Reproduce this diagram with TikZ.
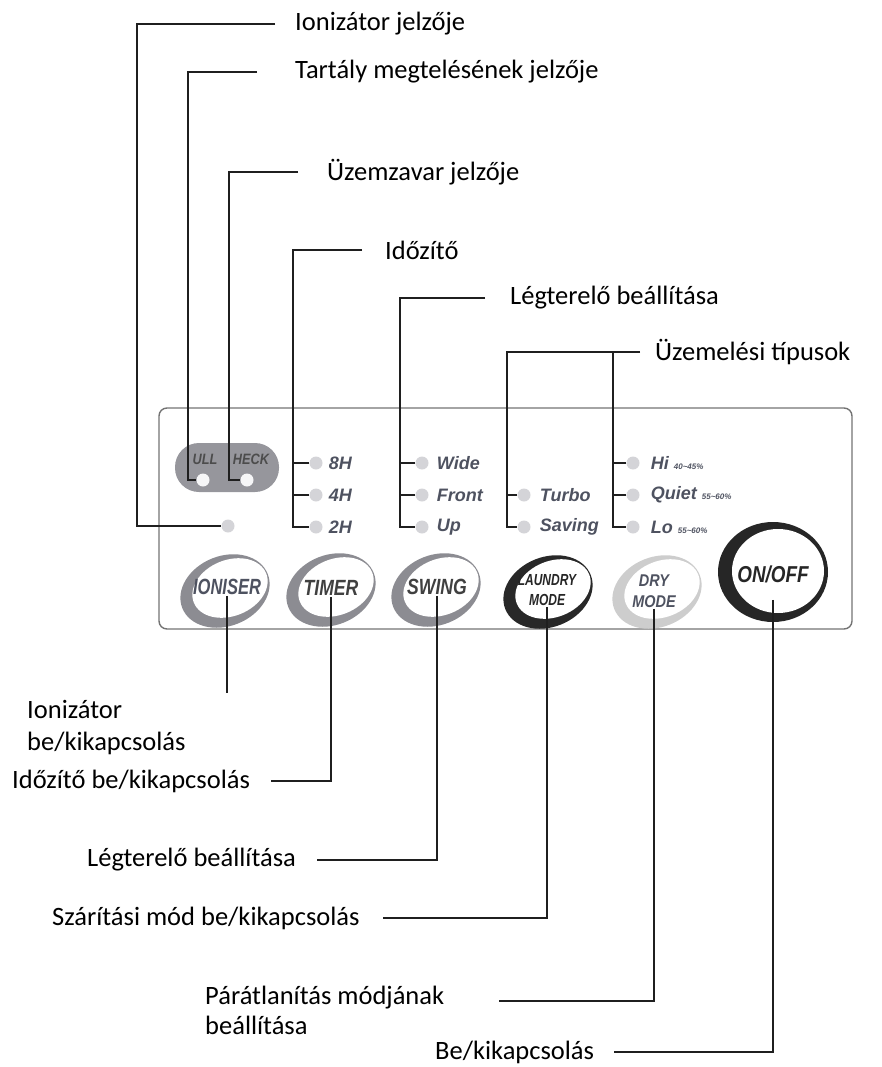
\documentclass[tikz,border=0pt]{standalone}
\usepackage{fontspec}
\setmainfont{Carlito}
\newfontfamily\panelfont{Liberation Sans}
\usetikzlibrary{positioning}

\definecolor{ledgray}{RGB}{212,212,216}
\definecolor{paneltext}{RGB}{78,82,96}
\definecolor{ringgray}{RGB}{140,140,146}
\definecolor{ringdark}{RGB}{40,40,40}
\definecolor{ringlight}{RGB}{205,205,205}
\definecolor{pillgray}{RGB}{150,150,156}

\tikzset{
  lead/.style={line width=2pt, black!88},
  panel/.style={draw=black!55, line width=1.4pt, rounded corners=8pt},
  led/.style={circle, fill=ledgray, minimum size=13pt, inner sep=0pt},
  callout/.style={inner sep=0pt, font=\fontsize{26.5}{32}\selectfont},
  ledtext/.style={anchor=west, inner sep=0pt, text=paneltext,
    font=\panelfont\bfseries\itshape\fontsize{18}{18}\selectfont},
  pilltext/.style={inner sep=0pt, text=black!70,
    font=\panelfont\bfseries\itshape\fontsize{15}{15}\selectfont},
  btntext/.style={inner sep=1pt, align=center,
    font=\panelfont\bfseries\itshape\fontsize{22}{22}\selectfont}
}

\begin{document}
\begin{tikzpicture}[x=1pt,y=-1pt]
\useasboundingbox (0,0) rectangle (881,1067);

% control panel
\draw[panel] (159,408) rectangle (852,629);
\fill[pillgray, rounded corners=24pt] (175,443) rectangle (279,492);
\node[pilltext] (full) at (205,459) {\scalebox{0.85}[1]{ULL}};
\node[pilltext] (check) at (251,459) {\scalebox{0.85}[1]{HECK}};

% button rings
\foreach \cx/\cy/\col in {225/591/ringgray, 331/590/ringgray, 436/590/ringgray,
                          548/592/ringdark, 657/592/ringlight}
{
  \fill[\col, rotate around={22:(\cx,\cy)}] (\cx,\cy) ellipse (46 and 35);
  \fill[white, rotate around={22:(\cx+5,\cy-3)}] (\cx+5,\cy-3) ellipse (39 and 28);
}
\fill[black!85] (773,572) ellipse (55 and 50);
\fill[white] (778,571) ellipse (46 and 42);

\begin{scope}[every node/.style=btntext]
    \node[text=paneltext] (bnIon) at (227,587) {\scalebox{0.75}[1]{IONISER}};
    \node[text=black!75] (bnTim) at (331,588) {\scalebox{0.8}[1]{TIMER}};
    \node[text=black!75] (bnSw) at (437,587) {\scalebox{0.8}[1]{SWING}};
    \node[text=black!85, font=\panelfont\bfseries\itshape\fontsize{16}{20}\selectfont]
        (bnLau) at (547,590) {\scalebox{0.75}[1]{LAUNDRY}\\\scalebox{0.75}[1]{MODE}};
    \node[text=paneltext, font=\panelfont\bfseries\itshape\fontsize{17}{21}\selectfont]
        (bnDry) at (654,591) {\scalebox{0.85}[1]{DRY}\\\scalebox{0.85}[1]{MODE}};
    \node[text=black!85, font=\panelfont\bfseries\itshape\fontsize{23}{23}\selectfont]
        (bnOn) at (773,574) {\scalebox{0.82}[1]{ON/OFF}};
\end{scope}

% indicator lamps
\begin{scope}[every node/.style=led]
    \node (ledIon) at (228,526) {};
    \node[fill=white!80!ledgray] (ledFull) at (203,480) {};
    \node[fill=white!80!ledgray] (ledErr) at (247,480) {};
    \node (led8H) at (316,463) {};
    \node (led4H) at (316,495) {};
    \node (led2H) at (316,527) {};
    \node (ledWide) at (422,463) {};
    \node (ledFront) at (422,495) {};
    \node (ledUp) at (422,527) {};
    \node (ledTurbo) at (524,495) {};
    \node (ledSaving) at (524,527) {};
    \node (ledHi) at (633,463) {};
    \node (ledQuiet) at (633,495) {};
    \node (ledLo) at (633,527) {};
\end{scope}

\begin{scope}[every node/.style=ledtext]
    \node[right=6pt of led8H] (t8H) {8H};
    \node[right=6pt of led4H] (t4H) {4H};
    \node[right=6pt of led2H] (t2H) {2H};
    \node[right=8pt of ledWide] (tWide) {Wide};
    \node[right=8pt of ledFront] (tFront) {Front};
    \node[right=8pt of ledUp] (tUp) {Up};
    \node[right=9pt of ledTurbo] (tTurbo) {Turbo};
    \node[right=9pt of ledSaving] (tSaving) {Saving};
    \node[right=11pt of ledHi] (tHi) {Hi {\fontsize{8}{8}\selectfont 40\textasciitilde45\%}};
    \node[right=11pt of ledQuiet] (tQuiet) {Quiet {\fontsize{8}{8}\selectfont 55\textasciitilde60\%}};
    \node[right=11pt of ledLo] (tLo) {Lo {\fontsize{8}{8}\selectfont 55\textasciitilde60\%}};
\end{scope}

% labels above
\begin{scope}[every node/.style={callout, anchor=west}]
    \node (tIon) at (295,24) {Ionizátor jelzője};
    \node (tFull) at (295,72) {Tartály megtelésének jelzője};
    \node (tErr) at (327,172) {Üzemzavar jelzője};
    \node (tTim) at (385,250) {Időzítő};
    \node (tSw) at (510,298) {Légterelő beállítása};
    \node (tMode) at (655,352) {Üzemelési típusok};
\end{scope}

% labels below
\begin{scope}[every node/.style={callout, anchor=west, align=left}]
    \node (lIon) at (27,728) {Ionizátor\\be/kikapcsolás};
    \node (lTim) at (12,781) {Időzítő be/kikapcsolás};
    \node (lSw) at (87,860) {Légterelő beállítása};
    \node (lLau) at (52,918) {Szárítási mód be/kikapcsolás};
    \node[font=\fontsize{26.5}{30}\selectfont] (lDry) at (205,1010) {Párátlanítás módjának\\beállítása};
    \node (lOn) at (435,1052) {Be/kikapcsolás};
\end{scope}

\coordinate (ionEnd) at (227,693);

% leader lines
\begin{scope}[lead]
    \draw ([xshift=-20pt]tIon.west) -- ++(-138,0) |- (ledIon.west);
    \draw ([xshift=-38pt]tFull.west) -- ++(-69,0) |- (ledFull.west);
    \draw ([xshift=-29pt]tErr.west) -- ++(-69,0) |- (ledErr.west);
    \draw ([xshift=-23pt]tTim.west) -- ++(-69,0) |- (led2H.west);
    \draw (led8H.west) -- ++(-17,0);
    \draw (led4H.west) -- ++(-17,0);
    \draw ([xshift=-25pt]tSw.west) -- ++(-85,0) |- (ledUp.west);
    \draw (ledWide.west) -- ++(-16,0);
    \draw (ledFront.west) -- ++(-16,0);
    \draw ([xshift=-15pt]tMode.west) -- ++(-133,0) |- (ledSaving.west);
    \draw (ledTurbo.west) -- ++(-11,0);
    \draw (tMode.west) ++(-42,0) |- (ledLo.west);
    \draw (ledHi.west) -- ++(-14,0);
    \draw (ledQuiet.west) -- ++(-14,0);

    \draw (bnIon.south) -- (ionEnd);
    \draw (bnTim.south) |- ([xshift=21pt]lTim.east);
    \draw (bnSw.south) |- ([xshift=21pt]lSw.east);
    \draw (bnLau.south) |- ([xshift=23pt]lLau.east);
    \draw (bnDry.south) |- ([xshift=55pt,yshift=-15pt]lDry.north east);
    \draw ([yshift=-16pt]bnOn.south) |- ([xshift=20pt]lOn.east);
\end{scope}
\end{tikzpicture}
\end{document}
